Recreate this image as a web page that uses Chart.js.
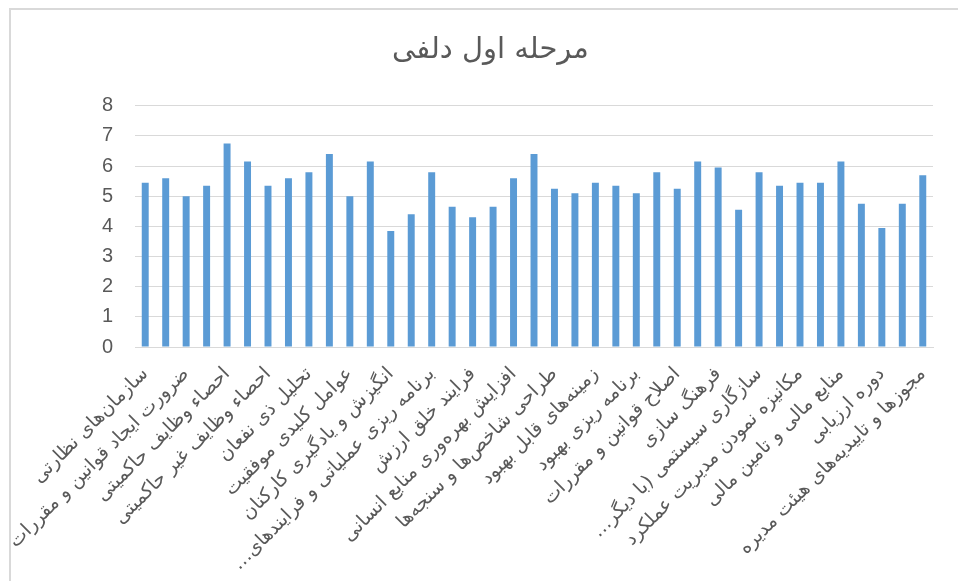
<!DOCTYPE html>
<html>
<head>
<meta charset="utf-8">
<script src="https://cdn.jsdelivr.net/npm/chart.js@4"></script>
<style>
  html, body { margin: 0; padding: 0; background: #fff; overflow: hidden; }
  #wrap { position: relative; width: 958px; height: 581px; }
  #frame {
    position: absolute; left: 9px; top: 8px; width: 960px; height: 600px;
    border-left: 2px solid #d9d9d9; border-top: 2px solid #d9d9d9;
    pointer-events: none;
  }
</style>
</head>
<body>
<div id="wrap">
  <canvas id="myChart" width="958" height="581"></canvas>
  <div id="frame"></div>
</div>
<script>
// فقط برچسب‌های قابل خواندن (یکی در میان نمایش داده شده)
const shownLabels = [
  'سازمان‌های نظارتی',
  'ضرورت ایجاد قوانین و مقررات',
  'احصاء وظایف حاکمیتی',
  'احصاء وظایف غیر حاکمیتی',
  'تحلیل ذی نفعان',
  'عوامل کلیدی موفقیت',
  'انگیزش و یادگیری کارکنان',
  'برنامه ریزی عملیاتی و فرایندهای…',
  'فرایند خلق ارزش',
  'افزایش بهره‌وری منابع انسانی',
  'طراحی شاخص‌ها و سنجه‌ها',
  'زمینه‌های قابل بهبود',
  'برنامه ریزی بهبود',
  'اصلاح قوانین و مقررات',
  'فرهنگ سازی',
  'سازگاری سیستمی (با دیگر…',
  'مکانیزه نمودن مدیریت عملکرد',
  'منابع مالی و تامین مالی',
  'دوره ارزیابی',
  'مجوزها و تاییدیه‌های هیئت مدیره'
];

const values = [
  5.45, 5.6, 5.0, 5.35, 6.75, 6.15, 5.35, 5.6, 5.8, 6.4,
  5.0, 6.15, 3.85, 4.4, 5.8, 4.65, 4.3, 4.65, 5.6, 6.4,
  5.25, 5.1, 5.45, 5.35, 5.1, 5.8, 5.25, 6.15, 5.95, 4.55,
  5.8, 5.35, 5.45, 5.45, 6.15, 4.75, 3.95, 4.75, 5.7
];

const yTicks = [0, 1, 2, 3, 4, 5, 6, 7, 8];

// 39 دسته؛ برچسب‌های بین آن‌ها در تصویر دیده نمی‌شوند
// RLM دور متن تا سه‌نقطه در سمت چپ بماند
const categories = values.map((v, i) => (i % 2 === 0 ? '\u200F' + shownLabels[i / 2] + '\u200F' : ''));

const textColor = '#595959';
const gridColor = '#d9d9d9';

const ctx = document.getElementById('myChart');

new Chart(ctx, {
  type: 'bar',
  data: {
    labels: categories,
    datasets: [{
      label: 'مرحله اول دلفی',
      data: values,
      backgroundColor: '#5b9bd5',
      borderWidth: 0,
      barPercentage: 0.34,
      categoryPercentage: 1
    }]
  },
  options: {
    responsive: false,
    animation: false,
    layout: {
      padding: { left: 48, right: 25, top: 0, bottom: 0 }
    },
    plugins: {
      legend: { display: false },
      tooltip: { enabled: false },
      title: {
        display: true,
        text: 'مرحله اول دلفی',
        color: textColor,
        font: { family: 'DejaVu Sans', size: 29, weight: 'normal' },
        padding: { top: 33, bottom: 38 }
      }
    },
    scales: {
      x: {
        grid: { display: false },
        border: { display: true, color: gridColor, width: 1 },
        ticks: {
          autoSkip: false,
          minRotation: 45,
          maxRotation: 45,
          padding: 8,
          color: textColor,
          font: { family: 'DejaVu Sans', size: 19 }
        },
        afterFit: scale => { scale.height = 234; }
      },
      y: {
        min: 0,
        max: 8,
        afterBuildTicks: scale => { scale.ticks = yTicks.map(v => ({ value: v })); },
        grid: { color: gridColor, lineWidth: 1, drawTicks: false },
        border: { display: false },
        ticks: {
          padding: 22,
          color: textColor,
          font: { family: 'Liberation Sans', size: 20 }
        },
        afterFit: scale => { scale.width = 87; }
      }
    }
  }
});
</script>
</body>
</html>
